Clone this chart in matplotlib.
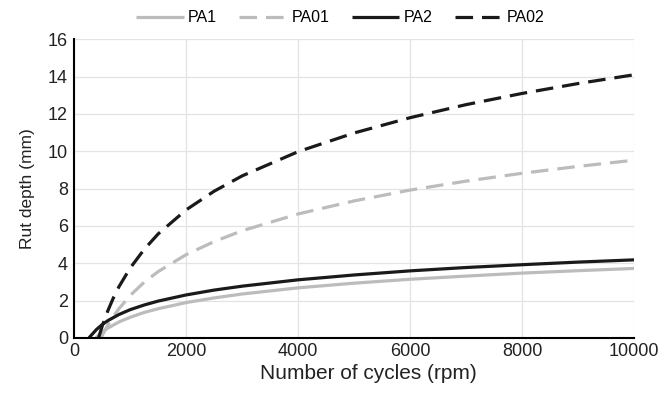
import numpy as np
import matplotlib.pyplot as plt

plt.rcParams['font.family'] = ['Liberation Sans', 'DejaVu Sans']

# Number of cycles and rut depth
x_pa1 = [390, 400, 500, 600, 800, 1000, 1250, 1500, 2000, 2500, 3000, 4000, 5000, 6000, 7000, 8000, 9000, 10000]
y_pa1 = [0.0, 0.04, 0.31, 0.52, 0.85, 1.10, 1.36, 1.56, 1.89, 2.14, 2.35, 2.68, 2.93, 3.14, 3.31, 3.47, 3.60, 3.72]

x_pa01 = [480, 500, 600, 700, 800, 1000, 1250, 1500, 2000, 2500, 3000, 4000, 5000, 6000, 7000, 8000, 9000, 10000]
y_pa01 = [0.0, 0.12, 0.68, 1.15, 1.56, 2.27, 2.98, 3.55, 4.46, 5.16, 5.74, 6.64, 7.34, 7.92, 8.40, 8.82, 9.19, 9.52]

x_pa2 = [265, 300, 400, 500, 600, 800, 1000, 1250, 1500, 2000, 2500, 3000, 4000, 5000, 6000, 7000, 8000, 9000, 10000]
y_pa2 = [0.0, 0.12, 0.45, 0.71, 0.92, 1.25, 1.51, 1.76, 1.97, 2.30, 2.56, 2.77, 3.11, 3.37, 3.59, 3.77, 3.92, 4.06, 4.18]

x_pa02 = [436, 500, 600, 700, 800, 1000, 1250, 1500, 2000, 2500, 3000, 4000, 5000, 6000, 7000, 8000, 9000, 10000]
y_pa02 = [0.0, 0.62, 1.44, 2.14, 2.74, 3.74, 4.74, 5.57, 6.86, 7.86, 8.68, 9.98, 10.98, 11.80, 12.50, 13.10, 13.63, 14.10]

grey = '#bcbcbc'
black = '#1a1a1a'
txt = '#222222'

fig = plt.figure(figsize=(6.62, 3.97), dpi=100)
ax = fig.add_axes([0.112, 0.149, 0.846, 0.752])

lw = 2.3
dash = (0, (5.5, 2.8))
ax.plot(x_pa1, y_pa1, color=grey, lw=lw, label='PA1', solid_capstyle='butt')
ax.plot(x_pa01, y_pa01, color=grey, lw=lw, ls=dash, label='PA01')
ax.plot(x_pa2, y_pa2, color=black, lw=lw, label='PA2', solid_capstyle='butt')
ax.plot(x_pa02, y_pa02, color=black, lw=lw, ls=dash, label='PA02')

ax.set_xlim(0, 10000)
ax.set_ylim(0, 16)
ax.set_xticks(np.arange(0, 10001, 2000))
ax.set_yticks(np.arange(0, 17, 2))
ax.grid(color='#e3e3e3', lw=0.9)
ax.set_axisbelow(True)
for s in ['top', 'right']:
    ax.spines[s].set_visible(False)
for s in ['left', 'bottom']:
    ax.spines[s].set_color('black')
    ax.spines[s].set_linewidth(1.5)
ax.tick_params(length=0, labelsize=13, colors=txt)
ax.tick_params(axis='x', pad=4)
ax.tick_params(axis='y', pad=4.5)

ax.set_xlabel('Number of cycles (rpm)', fontsize=15, color=txt, labelpad=3)
ax.xaxis.set_label_coords(0.526, -0.088)
ax.set_ylabel('Rut depth (mm)', fontsize=12.5, color=txt, labelpad=9)

fig.legend(loc='upper center', bbox_to_anchor=(0.514, 1.01), ncol=4, frameon=False,
           fontsize=11.5, handlelength=3.0, handletextpad=0.25, columnspacing=1.4)

fig.savefig('out.png', dpi=100)
